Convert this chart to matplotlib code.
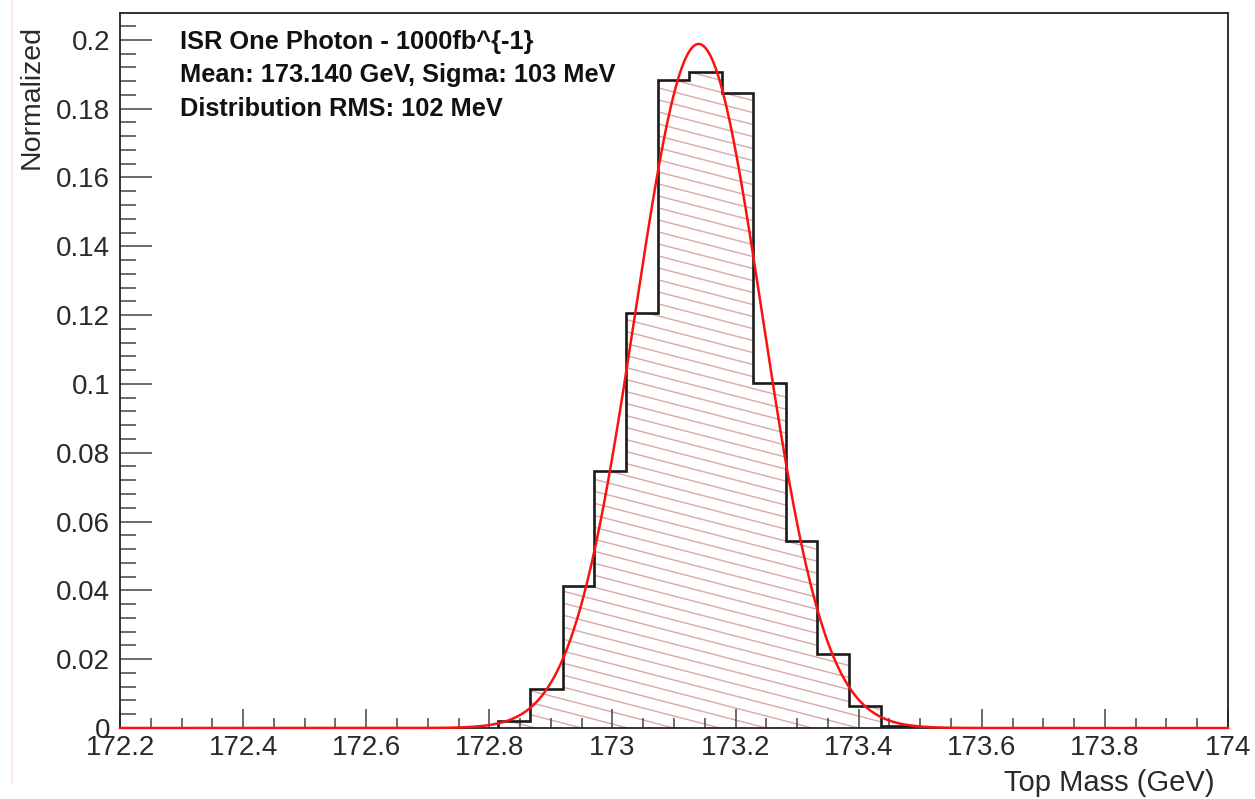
import numpy as np
import matplotlib
matplotlib.use("Agg")
import matplotlib.pyplot as plt
from matplotlib.collections import LineCollection
from matplotlib.patches import Polygon
from matplotlib.ticker import MultipleLocator, FormatStrFormatter
from matplotlib.lines import Line2D

plt.rcParams['font.family'] = ['Liberation Sans', 'DejaVu Sans']

# ---- data ----
bin_edges = [172.814, 172.866, 172.920, 172.970, 173.022, 173.074, 173.124,
             173.178, 173.228, 173.282, 173.332, 173.384, 173.436, 173.488]
bin_values = [0.0020, 0.0113, 0.0413, 0.0747, 0.1206, 0.1884, 0.1907,
              0.1846, 0.1003, 0.0544, 0.0215, 0.0064, 0.0005]
fit_mean = 173.140
fit_sigma = 0.103
fit_amplitude = 0.1988
x_range = (172.2, 174.0)
y_range = (0.0, 0.2078)
info_lines = ["ISR One Photon - 1000fb^{-1}",
              "Mean: 173.140 GeV, Sigma: 103 MeV",
              "Distribution RMS: 102 MeV"]
x_title = "Top Mass (GeV)"
y_title = "Normalized"

W, H = 1255, 799
fig = plt.figure(figsize=(W / 100, H / 100), dpi=100)
ax = fig.add_axes([120 / W, 1 - 728 / H, (1228 - 120) / W, (728 - 13) / H])

# hatch: clipped shallow diagonal lines
verts = [(bin_edges[0], 0)]
for i, v in enumerate(bin_values):
    verts.append((bin_edges[i], v))
    verts.append((bin_edges[i + 1], v))
verts.append((bin_edges[-1], 0))
poly = Polygon(verts, closed=True, facecolor='none', edgecolor='none',
               transform=ax.transData)
ax.add_patch(poly)
ax_w_px, ax_h_px = 1108, 715
slope = -0.26 * ax_w_px / ax_h_px
spacing = 12.0 / ax_h_px
segs = []
c = 0.0
while c < 1 - slope + spacing:
    segs.append([(0, c), (1, c + slope)])
    c += spacing
lc = LineCollection(segs, colors='#dba8a8', linewidths=1.0,
                    transform=ax.transAxes, zorder=1)
lc.set_clip_path(poly)
ax.add_collection(lc)

# histogram outline
ax.stairs(bin_values, bin_edges, color='#1a1a1a', linewidth=1.9, zorder=3)

# Gaussian fit curve
xf = np.linspace(x_range[0], x_range[1], 800)
yf = fit_amplitude * np.exp(-0.5 * ((xf - fit_mean) / fit_sigma) ** 2)
ax.plot(xf, yf, color='#ff1010', linewidth=1.8, zorder=4, clip_on=False)

ax.set_xlim(*x_range)
ax.set_ylim(*y_range)

ax.xaxis.set_major_locator(MultipleLocator(0.2))
ax.xaxis.set_minor_locator(MultipleLocator(0.05))
ax.yaxis.set_major_locator(MultipleLocator(0.02))
ax.yaxis.set_minor_locator(MultipleLocator(0.004))
ax.xaxis.set_major_formatter(FormatStrFormatter('%g'))
ax.yaxis.set_major_formatter(FormatStrFormatter('%g'))

ax.tick_params(axis='both', which='both', direction='in', top=False, right=False,
               colors='#444444', labelcolor='#2a2a2a', labelsize=20, width=1.1)
ax.tick_params(axis='x', which='major', length=13.7, pad=5)
ax.tick_params(axis='x', which='minor', length=7.2)
ax.tick_params(axis='y', which='major', length=23, pad=7)
ax.tick_params(axis='y', which='minor', length=11.5)
for s in ax.spines.values():
    s.set_linewidth(1.3)
    s.set_color('#222222')

fig.text(32 / W, 1 - 25 / H, y_title, rotation=90, ha='center', va='top',
         fontsize=20.5, color='#2a2a2a')
fig.text(1215 / W, 1 - 783 / H, x_title, ha='right', va='center',
         fontsize=21, color='#2a2a2a')

for i, line in enumerate(info_lines):
    fig.text(180 / W, 1 - (42 + 33.3 * i) / H, line, ha='left', va='center',
             fontsize=18.3, fontweight='bold', color='#111111')

# faint edge artifact line
fig.add_artist(Line2D([12 / W, 12 / W], [0.02, 1.0], transform=fig.transFigure,
                      color='#fbe3de', linewidth=1.2))

fig.savefig('out.png', dpi=100)
